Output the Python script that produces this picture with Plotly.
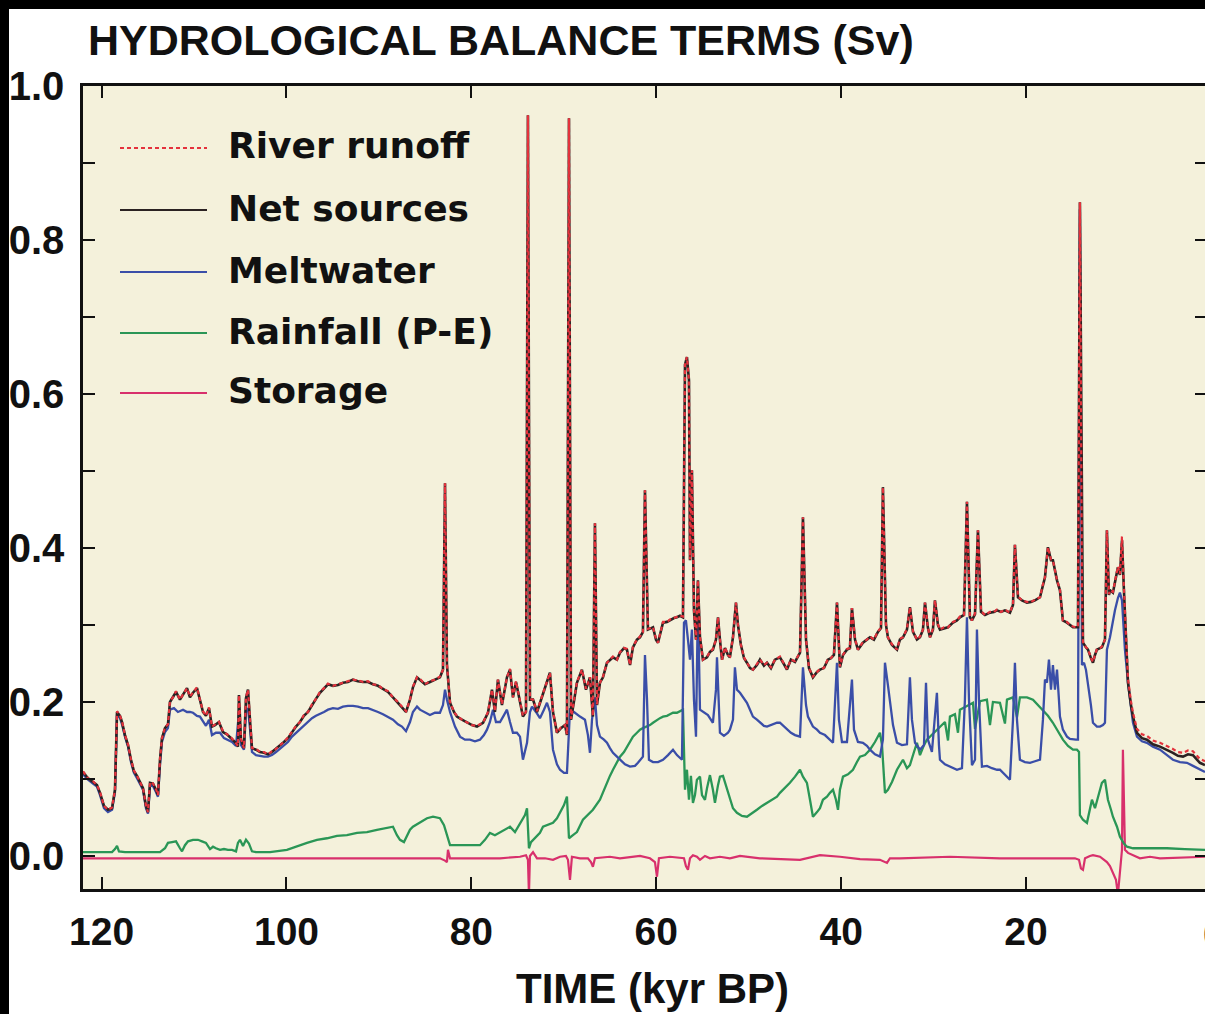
import plotly.graph_objects as go

# ---------------- data (time in kyr BP, fluxes in Sv) ----------------
t_net = [
    122.01, 121.47, 120.93, 120.50, 120.17, 119.74, 119.31, 118.87, 118.55, 118.33,
    118.01, 117.79, 117.47, 117.14, 116.82, 116.50, 116.17, 115.85, 115.52, 115.20,
    114.98, 114.76, 114.44, 114.12, 113.90, 113.68, 113.47, 113.14, 112.82, 112.60,
    112.28, 111.95, 111.52, 111.19, 110.76, 110.44, 110.11, 109.68, 109.36, 109.03,
    108.71, 108.38, 108.06, 107.73, 107.30, 106.87, 106.44, 106.00, 105.57, 105.25,
    105.14, 104.92, 104.60, 104.38, 104.16, 103.95, 103.73, 103.30, 102.87, 102.43,
    102.00, 101.57, 101.13, 100.70, 100.27, 99.84, 99.40, 98.97, 98.54, 98.11,
    97.67, 97.24, 96.81, 96.38, 95.94, 95.51, 94.97, 94.43, 93.89, 93.35,
    92.81, 92.27, 91.72, 91.18, 90.64, 90.10, 89.56, 89.02, 88.48, 87.94,
    87.51, 87.07, 86.64, 86.32, 85.88, 85.56, 85.02, 84.48, 83.94, 83.40,
    83.07, 82.85, 82.64, 82.31, 81.88, 81.56, 81.02, 80.47, 79.93, 79.39,
    78.74, 78.20, 77.77, 77.45, 77.12, 76.69, 76.15, 75.82, 75.50, 75.17,
    74.74, 74.42, 74.09, 73.88, 73.66, 73.33, 72.90, 72.47, 71.82, 71.50,
    71.17, 70.74, 70.31, 69.87, 69.66, 69.44, 69.22, 68.90, 68.58, 68.04,
    67.60, 67.17, 66.85, 66.63, 66.41, 66.09, 65.76, 65.33, 64.68, 64.25,
    63.92, 63.49, 63.17, 62.84, 62.52, 62.09, 61.76, 61.44, 61.22, 60.90,
    60.35, 60.03, 59.81, 59.27, 58.84, 58.52, 58.08, 57.76, 57.43, 57.11,
    56.89, 56.68, 56.46, 56.35, 56.14, 55.92, 55.70, 55.49, 55.27, 54.95,
    54.51, 54.19, 53.87, 53.54, 53.32, 53.11, 52.89, 52.57, 52.24, 52.03,
    51.70, 51.38, 51.16, 50.84, 50.51, 50.19, 49.86, 49.54, 49.11, 48.78,
    48.35, 48.02, 47.59, 47.16, 46.62, 46.18, 45.86, 45.43, 44.99, 44.45,
    44.13, 43.80, 43.48, 43.05, 42.61, 42.29, 41.86, 41.43, 41.10, 40.78,
    40.45, 40.13, 39.80, 39.37, 39.05, 38.83, 38.50, 38.18, 37.64, 37.21,
    36.88, 36.45, 36.02, 35.69, 35.48, 35.15, 34.94, 34.50, 33.96, 33.64,
    33.31, 32.88, 32.56, 32.23, 31.80, 31.47, 31.15, 30.93, 30.61, 30.39,
    30.07, 29.85, 29.53, 29.31, 28.88, 28.44, 27.90, 27.47, 27.15, 26.71,
    26.39, 26.07, 25.85, 25.52, 25.20, 24.87, 24.44, 23.90, 23.47, 23.14,
    22.71, 22.28, 21.74, 21.41, 21.20, 20.87, 20.44, 19.90, 19.47, 19.03,
    18.49, 18.17, 17.95, 17.63, 17.30, 17.09, 16.87, 16.65, 16.33, 16.01,
    15.57, 15.25, 14.92, 14.60, 14.38, 14.17, 13.95, 13.84, 13.52, 13.30,
    12.98, 12.76, 12.54, 12.33, 12.00, 11.79, 11.46, 11.25, 11.03, 10.92,
    10.60, 10.27, 10.06, 9.84, 9.62, 9.41, 9.30, 9.08, 8.97, 8.65,
    8.43, 8.00, 7.46, 6.92, 6.27, 5.51, 4.76, 4.11, 3.57, 3.02,
    2.48, 1.94, 1.51, 1.19, 0.64,
]

net_sources = [
    0.109, 0.101, 0.096, 0.092, 0.082, 0.065, 0.060, 0.062, 0.086, 0.187,
    0.182, 0.174, 0.157, 0.144, 0.125, 0.110, 0.104, 0.096, 0.088, 0.065,
    0.057, 0.095, 0.094, 0.086, 0.079, 0.125, 0.153, 0.166, 0.171, 0.200,
    0.206, 0.213, 0.203, 0.209, 0.218, 0.206, 0.212, 0.218, 0.203, 0.187,
    0.182, 0.192, 0.168, 0.170, 0.174, 0.161, 0.158, 0.153, 0.148, 0.142,
    0.209, 0.151, 0.140, 0.205, 0.216, 0.177, 0.140, 0.138, 0.135, 0.134,
    0.132, 0.135, 0.139, 0.143, 0.148, 0.153, 0.161, 0.168, 0.174, 0.182,
    0.187, 0.196, 0.204, 0.212, 0.218, 0.223, 0.221, 0.222, 0.225, 0.226,
    0.229, 0.227, 0.226, 0.226, 0.223, 0.221, 0.217, 0.213, 0.206, 0.199,
    0.194, 0.187, 0.203, 0.219, 0.232, 0.229, 0.223, 0.226, 0.229, 0.232,
    0.242, 0.484, 0.248, 0.199, 0.187, 0.181, 0.177, 0.173, 0.170, 0.168,
    0.173, 0.186, 0.216, 0.187, 0.229, 0.196, 0.232, 0.242, 0.206, 0.226,
    0.199, 0.181, 0.187, 0.962, 0.203, 0.203, 0.187, 0.203, 0.225, 0.238,
    0.187, 0.160, 0.166, 0.170, 0.157, 0.958, 0.177, 0.203, 0.225, 0.242,
    0.216, 0.232, 0.181, 0.432, 0.196, 0.225, 0.232, 0.251, 0.258, 0.255,
    0.264, 0.270, 0.268, 0.248, 0.271, 0.281, 0.284, 0.291, 0.475, 0.294,
    0.297, 0.281, 0.277, 0.303, 0.304, 0.306, 0.309, 0.310, 0.312, 0.310,
    0.638, 0.648, 0.618, 0.384, 0.501, 0.319, 0.281, 0.358, 0.284, 0.255,
    0.258, 0.265, 0.268, 0.281, 0.310, 0.281, 0.255, 0.270, 0.261, 0.258,
    0.284, 0.329, 0.300, 0.274, 0.257, 0.251, 0.244, 0.242, 0.248, 0.255,
    0.247, 0.251, 0.244, 0.255, 0.258, 0.249, 0.242, 0.255, 0.252, 0.264,
    0.440, 0.281, 0.244, 0.232, 0.239, 0.242, 0.244, 0.255, 0.257, 0.261,
    0.329, 0.245, 0.261, 0.268, 0.270, 0.322, 0.281, 0.268, 0.277, 0.281,
    0.284, 0.281, 0.291, 0.296, 0.479, 0.300, 0.284, 0.274, 0.268, 0.281,
    0.284, 0.294, 0.323, 0.291, 0.281, 0.284, 0.294, 0.329, 0.296, 0.284,
    0.294, 0.332, 0.300, 0.294, 0.296, 0.297, 0.303, 0.306, 0.310, 0.313,
    0.460, 0.310, 0.306, 0.314, 0.423, 0.317, 0.313, 0.316, 0.317, 0.319,
    0.317, 0.319, 0.316, 0.326, 0.404, 0.336, 0.332, 0.329, 0.330, 0.332,
    0.336, 0.352, 0.362, 0.401, 0.384, 0.384, 0.369, 0.358, 0.345, 0.306,
    0.303, 0.300, 0.297, 0.297, 0.297, 0.849, 0.345, 0.277, 0.271, 0.268,
    0.257, 0.251, 0.261, 0.268, 0.270, 0.271, 0.281, 0.423, 0.339, 0.345,
    0.342, 0.365, 0.375, 0.365, 0.410, 0.345, 0.319, 0.268, 0.225, 0.196,
    0.181, 0.160, 0.153, 0.151, 0.145, 0.142, 0.138, 0.134, 0.130, 0.129,
    0.132, 0.131, 0.125, 0.121, 0.118,
]

river_runoff = [
    0.110, 0.101, 0.097, 0.092, 0.083, 0.065, 0.060, 0.063, 0.086, 0.188,
    0.182, 0.175, 0.157, 0.145, 0.125, 0.111, 0.104, 0.097, 0.088, 0.066,
    0.057, 0.096, 0.094, 0.087, 0.079, 0.126, 0.153, 0.167, 0.171, 0.201,
    0.206, 0.214, 0.203, 0.210, 0.218, 0.207, 0.212, 0.219, 0.203, 0.188,
    0.182, 0.193, 0.168, 0.171, 0.174, 0.162, 0.158, 0.154, 0.148, 0.143,
    0.209, 0.152, 0.140, 0.206, 0.216, 0.178, 0.140, 0.139, 0.135, 0.135,
    0.132, 0.136, 0.139, 0.144, 0.148, 0.154, 0.161, 0.169, 0.174, 0.183,
    0.187, 0.197, 0.204, 0.213, 0.218, 0.224, 0.221, 0.223, 0.225, 0.227,
    0.229, 0.228, 0.226, 0.227, 0.223, 0.222, 0.217, 0.214, 0.206, 0.200,
    0.194, 0.188, 0.203, 0.220, 0.232, 0.230, 0.223, 0.227, 0.229, 0.233,
    0.242, 0.484, 0.249, 0.200, 0.187, 0.182, 0.177, 0.174, 0.170, 0.169,
    0.173, 0.187, 0.216, 0.188, 0.229, 0.197, 0.232, 0.243, 0.206, 0.227,
    0.199, 0.182, 0.187, 0.962, 0.204, 0.203, 0.188, 0.203, 0.226, 0.238,
    0.188, 0.160, 0.167, 0.170, 0.158, 0.958, 0.178, 0.203, 0.226, 0.242,
    0.217, 0.232, 0.182, 0.432, 0.197, 0.225, 0.233, 0.251, 0.259, 0.255,
    0.265, 0.270, 0.269, 0.248, 0.272, 0.281, 0.285, 0.291, 0.475, 0.295,
    0.297, 0.282, 0.277, 0.304, 0.304, 0.307, 0.309, 0.311, 0.312, 0.311,
    0.638, 0.648, 0.618, 0.385, 0.501, 0.320, 0.281, 0.358, 0.285, 0.255,
    0.259, 0.265, 0.269, 0.281, 0.310, 0.282, 0.255, 0.271, 0.261, 0.259,
    0.284, 0.329, 0.301, 0.274, 0.258, 0.251, 0.245, 0.242, 0.249, 0.255,
    0.248, 0.251, 0.245, 0.255, 0.259, 0.249, 0.243, 0.255, 0.253, 0.264,
    0.440, 0.282, 0.244, 0.233, 0.239, 0.243, 0.244, 0.256, 0.257, 0.262,
    0.329, 0.246, 0.261, 0.269, 0.270, 0.322, 0.282, 0.268, 0.278, 0.281,
    0.285, 0.281, 0.292, 0.296, 0.479, 0.301, 0.284, 0.275, 0.268, 0.282,
    0.284, 0.295, 0.323, 0.292, 0.281, 0.285, 0.294, 0.329, 0.297, 0.284,
    0.295, 0.332, 0.301, 0.294, 0.297, 0.297, 0.304, 0.306, 0.311, 0.313,
    0.460, 0.311, 0.306, 0.315, 0.423, 0.318, 0.313, 0.317, 0.317, 0.320,
    0.317, 0.320, 0.316, 0.327, 0.404, 0.337, 0.332, 0.330, 0.330, 0.333,
    0.336, 0.353, 0.362, 0.401, 0.385, 0.384, 0.370, 0.358, 0.346, 0.306,
    0.304, 0.300, 0.298, 0.297, 0.298, 0.849, 0.346, 0.278, 0.271, 0.269,
    0.257, 0.252, 0.261, 0.269, 0.270, 0.272, 0.281, 0.423, 0.340, 0.345,
    0.343, 0.365, 0.376, 0.366, 0.415, 0.348, 0.323, 0.273, 0.230, 0.201,
    0.186, 0.165, 0.158, 0.156, 0.150, 0.147, 0.143, 0.139, 0.135, 0.134,
    0.137, 0.136, 0.130, 0.126, 0.123,
]

t_melt = [
    122.01, 121.47, 120.93, 120.50, 120.17, 119.74, 119.31, 118.87, 118.55, 118.33,
    118.01, 117.79, 117.47, 117.14, 116.82, 116.50, 116.17, 115.85, 115.52, 115.20,
    114.98, 114.76, 114.44, 114.12, 113.90, 113.68, 113.47, 113.14, 112.82, 112.60,
    112.17, 111.74, 111.19, 110.76, 110.44, 110.11, 109.68, 109.36, 109.03, 108.71,
    108.38, 108.06, 107.63, 107.19, 106.76, 106.33, 105.89, 105.46, 105.14, 104.92,
    104.60, 104.38, 104.16, 103.95, 103.73, 103.30, 102.87, 102.43, 102.00, 101.57,
    101.13, 100.70, 100.27, 99.84, 99.40, 98.97, 98.54, 98.11, 97.67, 97.24,
    96.81, 96.38, 95.94, 95.51, 94.97, 94.43, 93.89, 93.35, 92.81, 92.27,
    91.72, 91.18, 90.64, 90.10, 89.56, 89.02, 88.48, 87.94, 87.51, 87.07,
    86.64, 86.32, 85.88, 85.56, 85.02, 84.48, 83.94, 83.40, 83.07, 82.85,
    82.64, 82.31, 81.77, 81.23, 80.69, 80.15, 79.61, 79.07, 78.64, 78.31,
    77.99, 77.66, 77.34, 76.90, 76.47, 76.15, 75.82, 75.50, 75.07, 74.74,
    74.42, 74.09, 73.98, 73.66, 73.44, 73.01, 72.58, 72.15, 71.82, 71.50,
    71.17, 70.74, 70.41, 69.98, 69.66, 69.33, 68.90, 68.25, 67.71, 67.39,
    67.17, 66.95, 66.63, 66.41, 66.09, 65.66, 65.33, 65.01, 64.68, 64.25,
    63.92, 63.38, 62.84, 62.30, 61.98, 61.44, 61.22, 61.00, 60.79, 60.35,
    59.81, 59.27, 58.73, 58.19, 57.76, 57.22, 57.00, 56.79, 56.57, 56.35,
    56.14, 55.92, 55.70, 55.49, 55.27, 54.84, 54.41, 53.87, 53.54, 53.43,
    53.22, 53.11, 52.68, 52.24, 52.03, 51.70, 51.49, 51.27, 50.94, 50.51,
    50.19, 49.86, 49.54, 49.11, 48.78, 48.35, 48.02, 47.48, 46.94, 46.62,
    46.18, 45.86, 45.43, 44.99, 44.45, 44.13, 43.80, 43.59, 43.05, 42.61,
    42.29, 41.75, 41.21, 40.88, 40.45, 40.24, 39.91, 39.37, 38.83, 38.61,
    38.18, 37.64, 37.21, 36.88, 36.34, 35.80, 35.48, 35.26, 34.94, 34.72,
    34.39, 33.96, 33.42, 32.88, 32.56, 32.34, 32.01, 31.47, 31.04, 30.82,
    30.61, 30.18, 29.64, 29.42, 29.31, 28.77, 28.23, 27.69, 27.47, 26.93,
    26.61, 26.39, 26.17, 25.85, 25.52, 25.31, 25.09, 24.77, 24.23, 23.69,
    23.14, 22.82, 22.28, 21.74, 21.41, 21.20, 20.98, 20.66, 20.12, 19.57,
    19.03, 18.49, 18.17, 17.95, 17.74, 17.52, 17.30, 17.09, 16.87, 16.65,
    16.44, 16.33, 16.01, 15.57, 15.25, 14.92, 14.60, 14.38, 14.17, 13.95,
    13.73, 13.52, 13.30, 12.98, 12.76, 12.33, 12.00, 11.68, 11.46, 11.25,
    10.92, 10.60, 10.38, 10.06, 9.84, 9.62, 9.52, 9.30, 8.97, 8.65,
    8.43, 8.00, 7.46, 6.92, 6.27, 5.51, 4.76, 4.11, 3.35, 2.59,
    1.94, 1.19, 0.64,
]

meltwater = [
    0.106, 0.099, 0.094, 0.090, 0.079, 0.062, 0.057, 0.060, 0.083, 0.184,
    0.179, 0.171, 0.155, 0.142, 0.122, 0.108, 0.101, 0.094, 0.086, 0.062,
    0.055, 0.091, 0.091, 0.083, 0.077, 0.118, 0.148, 0.161, 0.166, 0.190,
    0.192, 0.187, 0.190, 0.187, 0.187, 0.186, 0.182, 0.181, 0.174, 0.169,
    0.177, 0.157, 0.160, 0.160, 0.153, 0.151, 0.148, 0.143, 0.187, 0.144,
    0.138, 0.187, 0.192, 0.166, 0.135, 0.131, 0.130, 0.129, 0.129, 0.131,
    0.135, 0.139, 0.143, 0.148, 0.155, 0.160, 0.164, 0.169, 0.174, 0.179,
    0.182, 0.184, 0.187, 0.190, 0.192, 0.191, 0.194, 0.195, 0.195, 0.194,
    0.192, 0.192, 0.190, 0.187, 0.184, 0.181, 0.177, 0.171, 0.168, 0.162,
    0.174, 0.187, 0.194, 0.190, 0.187, 0.183, 0.186, 0.186, 0.196, 0.216,
    0.203, 0.187, 0.168, 0.155, 0.151, 0.151, 0.149, 0.151, 0.157, 0.164,
    0.174, 0.190, 0.174, 0.174, 0.183, 0.190, 0.174, 0.160, 0.160, 0.155,
    0.125, 0.140, 0.147, 0.187, 0.194, 0.187, 0.179, 0.190, 0.199, 0.187,
    0.138, 0.119, 0.112, 0.108, 0.108, 0.190, 0.187, 0.181, 0.177, 0.157,
    0.134, 0.177, 0.206, 0.170, 0.155, 0.151, 0.147, 0.140, 0.134, 0.129,
    0.125, 0.119, 0.116, 0.117, 0.121, 0.129, 0.261, 0.203, 0.125, 0.122,
    0.122, 0.125, 0.131, 0.138, 0.131, 0.125, 0.303, 0.306, 0.281, 0.255,
    0.294, 0.203, 0.155, 0.332, 0.190, 0.187, 0.183, 0.173, 0.216, 0.258,
    0.203, 0.160, 0.156, 0.160, 0.164, 0.177, 0.245, 0.216, 0.212, 0.205,
    0.199, 0.190, 0.181, 0.177, 0.173, 0.169, 0.168, 0.170, 0.173, 0.173,
    0.168, 0.164, 0.160, 0.157, 0.155, 0.245, 0.196, 0.181, 0.168, 0.164,
    0.160, 0.157, 0.151, 0.147, 0.251, 0.177, 0.148, 0.148, 0.229, 0.164,
    0.148, 0.147, 0.143, 0.138, 0.132, 0.129, 0.151, 0.251, 0.222, 0.199,
    0.170, 0.147, 0.144, 0.145, 0.232, 0.177, 0.147, 0.138, 0.144, 0.225,
    0.151, 0.135, 0.212, 0.144, 0.125, 0.119, 0.116, 0.113, 0.112, 0.114,
    0.203, 0.310, 0.203, 0.118, 0.125, 0.294, 0.203, 0.116, 0.117, 0.114,
    0.112, 0.112, 0.105, 0.099, 0.177, 0.251, 0.177, 0.125, 0.122, 0.121,
    0.123, 0.125, 0.177, 0.229, 0.225, 0.255, 0.216, 0.248, 0.216, 0.242,
    0.203, 0.181, 0.164, 0.155, 0.152, 0.151, 0.151, 0.151, 0.840, 0.248,
    0.251, 0.242, 0.225, 0.196, 0.173, 0.168, 0.168, 0.170, 0.173, 0.268,
    0.284, 0.306, 0.319, 0.335, 0.342, 0.332, 0.310, 0.268, 0.225, 0.190,
    0.173, 0.155, 0.149, 0.147, 0.142, 0.138, 0.131, 0.125, 0.122, 0.121,
    0.117, 0.112, 0.109,
]

t_rain = [
    122.01, 121.25, 120.17, 118.87, 118.55, 118.33, 118.12, 117.47, 115.85, 113.68,
    113.14, 112.82, 112.38, 111.95, 111.52, 111.30, 110.98, 110.65, 110.11, 109.57,
    109.14, 108.71, 108.27, 107.95, 107.63, 107.19, 106.76, 106.33, 105.89, 105.46,
    105.25, 105.03, 104.70, 104.38, 104.06, 103.73, 103.30, 101.78, 99.95, 98.86,
    97.78, 96.70, 95.62, 94.54, 93.46, 92.37, 91.29, 90.21, 89.13, 88.48,
    88.05, 87.72, 87.29, 86.96, 86.64, 86.32, 85.56, 84.80, 84.15, 83.40,
    82.96, 82.64, 82.31, 81.23, 80.15, 79.07, 78.53, 77.99, 77.45, 76.90,
    76.36, 75.82, 75.28, 74.74, 74.20, 73.98, 73.77, 73.55, 73.12, 72.58,
    72.25, 71.71, 71.17, 70.74, 70.41, 69.98, 69.66, 69.44, 69.01, 68.58,
    67.93, 67.39, 66.85, 66.09, 65.76, 65.33, 65.01, 64.68, 64.25, 63.92,
    63.49, 63.17, 62.84, 62.52, 62.09, 61.76, 61.44, 61.00, 60.68, 60.35,
    59.92, 59.60, 59.27, 58.84, 58.52, 58.19, 57.76, 57.43, 57.11, 56.89,
    56.68, 56.46, 56.25, 56.03, 55.81, 55.60, 55.27, 55.05, 54.73, 54.51,
    54.19, 53.87, 53.65, 53.32, 53.11, 52.78, 52.46, 52.03, 51.70, 51.27,
    50.73, 50.19, 49.65, 49.11, 48.56, 48.02, 47.48, 46.94, 46.62, 46.29,
    45.86, 45.54, 44.99, 44.45, 44.13, 43.70, 43.37, 43.05, 42.61, 42.29,
    41.97, 41.53, 41.21, 40.88, 40.56, 40.34, 40.13, 39.80, 39.26, 38.72,
    38.29, 37.96, 37.42, 36.88, 36.34, 36.02, 35.80, 35.58, 35.37, 35.26,
    34.94, 34.50, 33.96, 33.64, 33.31, 32.88, 32.56, 32.12, 31.80, 31.47,
    31.04, 30.72, 30.39, 29.85, 29.31, 28.77, 28.44, 28.23, 27.69, 27.36,
    27.15, 26.39, 25.74, 25.52, 24.98, 24.23, 23.90, 23.58, 22.82, 22.28,
    22.06, 21.41, 20.98, 20.66, 19.90, 19.25, 18.71, 18.17, 17.63, 17.09,
    16.55, 16.01, 15.46, 14.92, 14.49, 14.27, 14.17, 13.84, 13.41, 13.09,
    12.87, 12.54, 12.22, 11.79, 11.46, 11.14, 10.81, 10.60, 10.16, 9.84,
    9.41, 9.08, 8.43, 6.59, 4.76, 2.81, 0.64,
]

rainfall = [
    0.005, 0.005, 0.005, 0.005, 0.009, 0.013, 0.006, 0.005, 0.005, 0.005,
    0.010, 0.017, 0.018, 0.019, 0.010, 0.006, 0.014, 0.019, 0.021, 0.021,
    0.019, 0.017, 0.009, 0.012, 0.010, 0.008, 0.009, 0.008, 0.008, 0.006,
    0.017, 0.021, 0.013, 0.021, 0.016, 0.006, 0.005, 0.005, 0.008, 0.013,
    0.017, 0.021, 0.023, 0.026, 0.027, 0.030, 0.031, 0.034, 0.036, 0.038,
    0.027, 0.021, 0.018, 0.026, 0.034, 0.038, 0.044, 0.049, 0.051, 0.049,
    0.040, 0.027, 0.014, 0.014, 0.014, 0.014, 0.021, 0.030, 0.027, 0.031,
    0.034, 0.038, 0.031, 0.042, 0.053, 0.062, 0.010, 0.018, 0.023, 0.030,
    0.038, 0.040, 0.043, 0.049, 0.056, 0.066, 0.077, 0.023, 0.027, 0.031,
    0.047, 0.053, 0.060, 0.073, 0.083, 0.095, 0.104, 0.112, 0.121, 0.129,
    0.135, 0.142, 0.148, 0.155, 0.160, 0.164, 0.166, 0.168, 0.170, 0.173,
    0.177, 0.179, 0.181, 0.182, 0.184, 0.186, 0.186, 0.188, 0.190, 0.086,
    0.112, 0.073, 0.104, 0.069, 0.079, 0.099, 0.103, 0.079, 0.073, 0.088,
    0.105, 0.086, 0.069, 0.092, 0.103, 0.104, 0.092, 0.073, 0.062, 0.056,
    0.052, 0.051, 0.055, 0.060, 0.065, 0.069, 0.073, 0.077, 0.082, 0.086,
    0.090, 0.095, 0.103, 0.112, 0.103, 0.095, 0.073, 0.051, 0.057, 0.062,
    0.073, 0.077, 0.082, 0.086, 0.073, 0.060, 0.086, 0.103, 0.106, 0.112,
    0.122, 0.129, 0.131, 0.138, 0.148, 0.155, 0.160, 0.144, 0.099, 0.082,
    0.086, 0.096, 0.112, 0.118, 0.125, 0.114, 0.118, 0.135, 0.147, 0.131,
    0.144, 0.151, 0.155, 0.161, 0.168, 0.174, 0.150, 0.181, 0.184, 0.160,
    0.190, 0.195, 0.199, 0.165, 0.201, 0.203, 0.170, 0.200, 0.199, 0.172,
    0.203, 0.206, 0.180, 0.206, 0.206, 0.203, 0.196, 0.190, 0.182, 0.173,
    0.162, 0.151, 0.143, 0.138, 0.138, 0.135, 0.053, 0.047, 0.043, 0.060,
    0.073, 0.062, 0.075, 0.095, 0.099, 0.073, 0.060, 0.051, 0.038, 0.025,
    0.016, 0.012, 0.010, 0.010, 0.010, 0.009, 0.008,
]

t_storage = [
    122.01, 114.76, 103.95, 93.13, 83.40, 82.85, 82.64, 82.53, 82.31, 76.90,
    74.74, 74.09, 73.88, 73.77, 73.66, 73.33, 72.90, 72.04, 71.17, 70.41,
    69.77, 69.55, 69.33, 69.12, 68.25, 67.39, 67.06, 66.85, 66.63, 65.01,
    63.92, 61.76, 60.68, 60.14, 59.92, 59.71, 58.52, 57.00, 56.79, 56.57,
    56.35, 56.03, 55.60, 55.27, 54.73, 54.19, 53.11, 52.03, 50.94, 48.78,
    45.54, 44.45, 42.29, 40.13, 37.96, 35.80, 35.04, 34.72, 33.64, 28.23,
    22.82, 17.41, 14.71, 14.27, 14.06, 13.84, 13.62, 13.09, 12.76, 12.00,
    11.25, 10.92, 10.60, 10.27, 10.06, 9.84, 9.62, 9.52, 9.41, 9.30,
    8.97, 8.43, 7.68, 6.59, 5.51, 0.64,
]

storage = [
    -0.003, -0.003, -0.003, -0.003, -0.003, -0.006, -0.008, 0.008, -0.003, -0.003,
    -0.001, 0.001, -0.005, -0.050, 0.000, 0.005, -0.003, -0.003, -0.005, -0.001,
    0.000, -0.005, -0.031, -0.001, -0.003, -0.003, -0.008, -0.014, -0.003, -0.001,
    -0.003, 0.000, -0.003, -0.008, -0.027, -0.003, -0.001, -0.003, -0.013, -0.018,
    -0.003, 0.001, -0.001, -0.005, 0.000, -0.003, -0.001, -0.003, 0.000, -0.003,
    -0.005, -0.005, 0.001, -0.001, -0.004, -0.005, -0.009, -0.003, -0.003, -0.001,
    -0.003, -0.003, -0.003, -0.005, -0.016, -0.018, -0.003, 0.000, 0.001, -0.001,
    -0.008, -0.013, -0.022, -0.031, -0.050, -0.018, 0.008, 0.138, 0.073, 0.008,
    0.004, 0.001, -0.003, -0.001, -0.003, -0.001,
]

x_tick_vals = [120, 100, 80, 60, 40, 20]
x_tick_text = ["120", "100", "80", "60", "40", "20"]
y_tick_vals = [0.0, 0.1, 0.2, 0.3, 0.4, 0.5, 0.6, 0.7, 0.8, 0.9, 1.0]
y_tick_text = ["0.0", "", "0.2", "", "0.4", "", "0.6", "", "0.8", "", "1.0"]

series_names = ["River runoff", "Net sources", "Meltwater", "Rainfall (P-E)", "Storage"]

# ---------------- styling ----------------
COL_RUNOFF = "#e4323c"
COL_NET = "#2b2222"
COL_MELT = "#3a4ea8"
COL_RAIN = "#2a9656"
COL_STORE = "#d8306c"

W, H = 1205, 1014
ML, MR, MT, MB = 83, 0, 86, 125
PW = W - ML - MR
PH = H - MT - MB


def px_x(px):
    """Horizontal pixel position -> paper coordinate."""
    return (px - ML) / PW


def px_y(py):
    """Vertical pixel position (from top) -> paper coordinate."""
    return (H - MB - py) / PH


fig = go.Figure()

fig.add_trace(go.Scatter(x=t_storage, y=storage, mode="lines", name="Storage",
                         line=dict(color=COL_STORE, width=2.2), showlegend=False))
fig.add_trace(go.Scatter(x=t_rain, y=rainfall, mode="lines", name="Rainfall (P-E)",
                         line=dict(color=COL_RAIN, width=2.3), showlegend=False))
fig.add_trace(go.Scatter(x=t_melt, y=meltwater, mode="lines", name="Meltwater",
                         line=dict(color=COL_MELT, width=2.3), showlegend=False))
fig.add_trace(go.Scatter(x=t_net, y=net_sources, mode="lines", name="Net sources",
                         line=dict(color=COL_NET, width=2.6), showlegend=False))
fig.add_trace(go.Scatter(x=t_net, y=river_runoff, mode="lines", name="River runoff",
                         line=dict(color=COL_RUNOFF, width=2.2, dash="4px,3px"),
                         showlegend=False))
# carrier for the right-hand tick marks
fig.add_trace(go.Scatter(x=[], y=[], yaxis="y2", showlegend=False, hoverinfo="skip"))

BOLD_SANS = "Liberation Sans, Arial, Helvetica, sans-serif"
tick_font_x = dict(family=BOLD_SANS, size=39, color="#111", weight="bold")
tick_font_y = dict(family=BOLD_SANS, size=40, color="#111", weight="bold")

fig.update_layout(
    width=W, height=H,
    margin=dict(l=ML, r=MR, t=MT, b=MB, pad=0),
    paper_bgcolor="white",
    plot_bgcolor="#f4f1db",
    showlegend=False,
    xaxis=dict(
        range=[122.01, 0.64],
        tickmode="array", tickvals=x_tick_vals, ticktext=x_tick_text,
        ticks="inside", ticklen=12, tickwidth=2, tickcolor="#111",
        showline=True, linewidth=2.5, linecolor="#111", mirror="ticks",
        showgrid=False, zeroline=False,
        tickfont=tick_font_x, ticklabelstandoff=6,
    ),
    yaxis=dict(
        range=[-0.0429, 1.0],
        tickmode="array", tickvals=y_tick_vals, ticktext=y_tick_text,
        ticks="inside", ticklen=12, tickwidth=2, tickcolor="#111",
        showline=True, linewidth=2.5, linecolor="#111", mirror=False,
        showgrid=False, zeroline=False,
        tickfont=tick_font_y, ticklabelstandoff=8,
    ),
    yaxis2=dict(
        overlaying="y", side="right", anchor="x",
        range=[-0.0429, 1.0],
        tickmode="array", tickvals=y_tick_vals, showticklabels=False,
        ticks="inside", ticklen=10, tickwidth=2, tickcolor="#111",
        showline=False, showgrid=False, zeroline=False,
    ),
)

shapes = [
    # dark frame strips along the top and left edges
    dict(type="rect", xref="paper", yref="paper",
         x0=px_x(0), x1=px_x(9), y0=px_y(H), y1=px_y(0),
         fillcolor="black", line=dict(width=0), layer="above"),
    dict(type="rect", xref="paper", yref="paper",
         x0=px_x(0), x1=px_x(W), y0=px_y(9), y1=px_y(0),
         fillcolor="black", line=dict(width=0), layer="above"),
]

annotations = [
    dict(text="HYDROLOGICAL BALANCE TERMS (Sv)", xref="paper", yref="paper",
         x=px_x(86), y=px_y(40), xanchor="left", yanchor="middle", showarrow=False,
         font=dict(family=BOLD_SANS, size=43, color="#111", weight="bold")),
    dict(text="TIME (kyr BP)", xref="paper", yref="paper",
         x=px_x(652), y=px_y(988), xanchor="center", yanchor="middle", showarrow=False,
         font=dict(family=BOLD_SANS, size=42, color="#111", weight="bold")),
    # the "0" tick label sits just beyond the right edge
    dict(text="0", xref="paper", yref="paper",
         x=px_x(1214), y=px_y(934), xanchor="center", yanchor="middle", showarrow=False,
         font=tick_font_x),
]

# hand-drawn key with long line samples
legend_rows = [
    (series_names[0], COL_RUNOFF, "4px,3px", 148),
    (series_names[1], COL_NET, "solid", 210),
    (series_names[2], COL_MELT, "solid", 272),
    (series_names[3], COL_RAIN, "solid", 333),
    (series_names[4], COL_STORE, "solid", 393),
]
for label, color, dash, ypx in legend_rows:
    shapes.append(dict(type="line", xref="paper", yref="paper",
                       x0=px_x(120), x1=px_x(207), y0=px_y(ypx), y1=px_y(ypx),
                       line=dict(color=color, width=2, dash=dash)))
    annotations.append(dict(text=label, xref="paper", yref="paper",
                            x=px_x(226), y=px_y(ypx - 2), xanchor="left", yanchor="middle",
                            showarrow=False,
                            font=dict(family="DejaVu Sans", size=36, color="#111",
                                      weight="bold")))

fig.update_layout(shapes=shapes, annotations=annotations)

fig.write_html("out.html")
